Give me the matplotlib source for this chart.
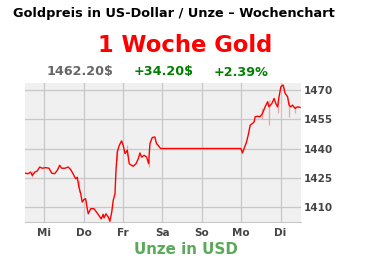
import matplotlib
matplotlib.use("Agg")
import matplotlib.pyplot as plt
import numpy as np

# time in hours since Wednesday 00:00, gold price in USD
hours = [-11.8, -9.9, -8.3, -7.3, -5.8, -4.3, -2.8, -1.2, 0.9, 2.9, 4.5, 6.3, 7.9, 9.4,
         10.6, 12.6, 14.6, 16.1, 17.7, 19.1, 20.1, 21.1, 22.2, 23.1, 24.2, 25.2, 26.2,
         26.8, 28.3, 30.3, 31.9, 33.3, 34.7, 35.9, 36.4, 37.6, 39.0, 40.0, 41.1, 42.0,
         43.1, 43.7, 44.5, 45.7, 47.1, 48.1, 49.2, 50.6, 51.8, 53.2, 54.2, 55.9, 57.3,
         58.3, 59.3, 60.9, 62.4, 63.6, 64.4, 65.8, 67.4, 68.4, 69.4, 70.9, 119.8, 120.8,
         121.8, 123.3, 124.5, 125.5, 126.9, 127.9, 128.5, 130.0, 131.4, 133.0, 134.6,
         136.1, 137.0, 138.7, 140.1, 141.1, 142.2, 143.1, 144.2, 145.6, 146.8, 148.3,
         149.2, 150.3, 151.3, 152.9, 154.3, 155.9]
prices = [1427.5, 1427.2, 1428.0, 1426.3, 1428.0, 1428.6, 1430.6, 1430.0, 1430.3, 1430.0,
          1427.5, 1427.2, 1428.9, 1431.5, 1430.0, 1430.0, 1430.6, 1429.3, 1426.9, 1424.6,
          1425.4, 1420.4, 1417.0, 1412.7, 1414.0, 1414.4, 1409.3, 1406.7, 1409.3, 1409.3,
          1407.5, 1405.8, 1404.1, 1406.4, 1404.6, 1406.7, 1405.0, 1402.9, 1407.5, 1413.5,
          1417.0, 1428.9, 1438.3, 1441.7, 1444.0, 1441.7, 1437.5, 1439.2, 1432.3, 1431.5,
          1431.0, 1432.3, 1434.9, 1437.8, 1435.7, 1436.6, 1435.7, 1432.3, 1442.6, 1445.7,
          1446.0, 1442.6, 1441.7, 1440.1, 1440.1, 1437.8, 1440.1, 1443.5, 1447.7, 1452.0,
          1452.9, 1453.7, 1456.3, 1456.6, 1456.3, 1458.0, 1461.4, 1464.0, 1461.4, 1463.1,
          1465.7, 1463.1, 1461.4, 1466.6, 1471.7, 1472.6, 1468.3, 1466.6, 1462.3, 1461.4,
          1462.3, 1460.6, 1461.4, 1461.1]

# intraday spikes (hour, low, high)
spike_hours = [-7.3, 21.1, 44.5, 50.6, 63.6, 133.0, 137.0, 142.2, 149.2, 152.9]
spike_lows = [1425.5, 1418.0, 1434.0, 1436.5, 1430.5, 1455.0, 1452.0, 1458.0, 1456.0, 1458.5]
spike_highs = [1428.5, 1424.0, 1440.0, 1442.0, 1434.0, 1461.0, 1465.0, 1464.5, 1464.0, 1462.0]

days = ["Mi", "Do", "Fr", "Sa", "So", "Mo", "Di"]
yticks = [1410, 1425, 1440, 1455, 1470]

title = "Goldpreis in US-Dollar / Unze – Wochenchart"
headline = "1 Woche Gold"
last_price = "1462.20$"
change_abs = "+34.20$"
change_pct = "+2.39%"
unit_label = "Unze in USD"

W, H = 372, 261
fig = plt.figure(figsize=(W / 100, H / 100), dpi=100)
fig.patch.set_facecolor("white")

left, right, top, bottom = 25, 301, 83, 222
ax = fig.add_axes([left / W, 1 - bottom / H, (right - left) / W, (bottom - top) / H])
ax.set_facecolor("#f0f0f0")

t = np.array(hours) / 24.0
st = np.array(spike_hours) / 24.0
ax.vlines(st, spike_lows, spike_highs, color="#f5a0a0", lw=0.9, zorder=2)
ax.plot(t, prices, color="#ff0000", lw=1.0, zorder=3)

ax.set_xlim(-0.49, 6.52)
ax.set_ylim(1402.5, 1473.6)
ax.set_xticks(range(len(days)))
ax.set_xticklabels(days)
ax.set_yticks(yticks)
ax.yaxis.tick_right()
ax.grid(True, color="#c8c8c8", lw=0.9)
ax.set_axisbelow(True)
ax.tick_params(length=0, labelsize=7.5, labelcolor="#444444")
ax.tick_params(axis="y", pad=2)
ax.tick_params(axis="x", pad=4)
for lab in ax.get_xticklabels() + ax.get_yticklabels():
    lab.set_fontweight("bold")
for s in ax.spines.values():
    s.set_visible(False)
ax.spines["bottom"].set_visible(True)
ax.spines["bottom"].set_color("#c8c8c8")

fig.text(13 / W, 1 - 13 / H, title, fontsize=9.3, fontweight="bold", color="black",
         ha="left", va="center")
fig.text(185 / W, 1 - 46 / H, headline, fontsize=16.3, fontweight="bold", color="#ff0000",
         ha="center", va="center")
fig.text(80 / W, 1 - 72 / H, last_price, fontsize=9.2, fontweight="bold", color="#666666",
         ha="center", va="center")
fig.text(164 / W, 1 - 72 / H, change_abs, fontsize=9.2, fontweight="bold", color="#008000",
         ha="center", va="center")
fig.text(241 / W, 1 - 72 / H, change_pct, fontsize=9.2, fontweight="bold", color="#008000",
         ha="center", va="center")
fig.text(185.5 / W, 1 - 250 / H, unit_label, fontsize=10.9, fontweight="bold", color="#5aaa5a",
         ha="center", va="center")

fig.savefig("out.png", dpi=100)
